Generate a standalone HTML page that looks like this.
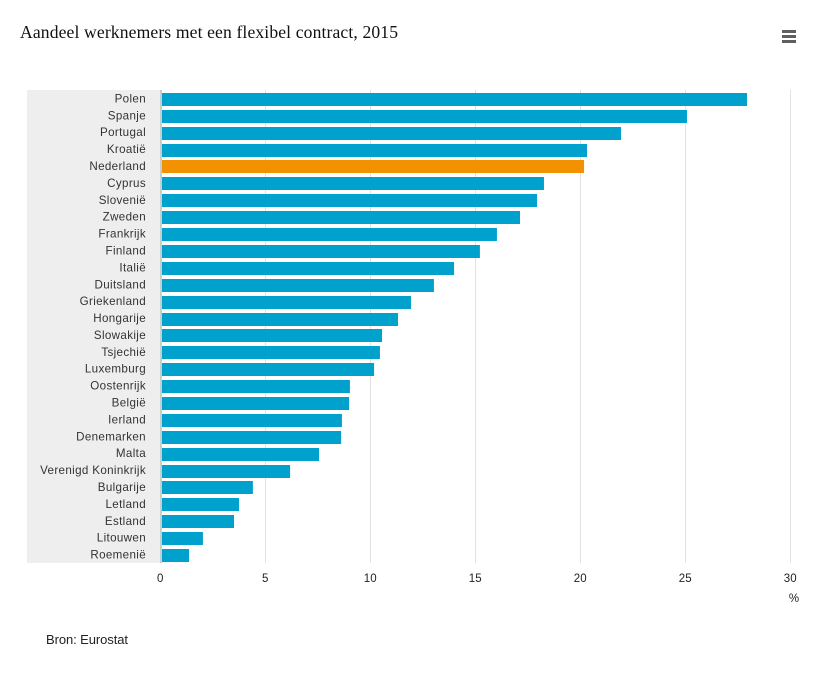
<!DOCTYPE html>
<html lang="nl">
<head>
<meta charset="utf-8">
<title>Aandeel werknemers met een flexibel contract, 2015</title>
<style>
html,body{margin:0;padding:0;background:#fff;width:825px;height:675px;overflow:hidden}
svg{display:block}
text{font-family:"Liberation Sans",sans-serif}
</style>
</head>
<body>
<svg id="chart" xmlns="http://www.w3.org/2000/svg" width="825" height="675" viewBox="0 0 825 675">
  <rect x="0" y="0" width="825" height="675" fill="#ffffff"/>
  <text x="20" y="38" font-size="17.6" fill="#111" textLength="378" lengthAdjust="spacing" style="font-family:'Liberation Serif',serif">Aandeel werknemers met een flexibel contract, 2015</text>
  <g>
    <rect x="782" y="30" width="14" height="3" fill="#5f5f5f"/>
    <rect x="782" y="35" width="14" height="3" fill="#5f5f5f"/>
    <rect x="782" y="40" width="14" height="3" fill="#5f5f5f"/>
  </g>
  <rect x="27" y="90" width="133" height="473" fill="#eeeeee"/>
  <g id="grid"></g>
  <rect x="160" y="90" width="2" height="473" fill="#c6ced4"/>
  <g id="bars"></g>
  <g id="cats"></g>
  <g id="ticks"></g>
  <text x="794" y="602" font-size="11.5" text-anchor="middle" fill="#222">%</text>
  <text x="46" y="644" font-size="13" fill="#222" textLength="82" lengthAdjust="spacing">Bron: Eurostat</text>
</svg>
<script>
const categories = ["Polen","Spanje","Portugal","Kroatië","Nederland","Cyprus","Slovenië","Zweden","Frankrijk","Finland","Italië","Duitsland","Griekenland","Hongarije","Slowakije","Tsjechië","Luxemburg","Oostenrijk","België","Ierland","Denemarken","Malta","Verenigd Koninkrijk","Bulgarije","Letland","Estland","Litouwen","Roemenië"];
const shares = [27.93,25.07,21.93,20.31,20.17,18.26,17.93,17.12,16.02,15.21,13.98,13.02,11.93,11.31,10.55,10.45,10.17,9.02,8.98,8.64,8.6,7.55,6.17,4.4,3.74,3.5,2.02,1.36];
const highlighted = ["Nederland"];
const tickValues = [0,5,10,15,20,25,30];

const NS = "http://www.w3.org/2000/svg";
const plotLeft = 160.5, plotRight = 790.5, plotTop = 90, plotBottom = 563, axisMax = 30;
const barStart = 162, barHeight = 13;
const xScale = v => plotLeft + (v / axisMax) * (plotRight - plotLeft);
const band = (plotBottom - plotTop) / categories.length;
const yCenter = i => plotTop + band * i + band / 2 + 1;
const yScale = i => Math.round(yCenter(i) - barHeight / 2 - 0.05);

function mk(tag, attrs, parent, txt) {
  const el = document.createElementNS(NS, tag);
  for (const k in attrs) el.setAttribute(k, attrs[k]);
  if (txt !== undefined) el.textContent = txt;
  parent.appendChild(el);
  return el;
}

const gridG = document.getElementById("grid");
const barsG = document.getElementById("bars");
const catsG = document.getElementById("cats");
const ticksG = document.getElementById("ticks");

tickValues.forEach(t => {
  if (t !== 0) {
    const line = mk("rect", {x: xScale(t) - 0.5, y: plotTop, width: 1, height: plotBottom - plotTop, fill: "#e2e2e2"}, gridG);
    
    
  }
  const lab = mk("text", {x: xScale(t) - 0.3, y: 582, "font-size": 11.5, "text-anchor": "middle", fill: "#222"}, ticksG, String(t));
  
  
});

categories.forEach((c, i) => {
  const slug = c.toLowerCase().replace(/[^a-z]+/g, "-");
  const bar = mk("rect", {
    x: barStart,
    y: yScale(i),
    width: Math.max(0, xScale(shares[i]) - barStart),
    height: barHeight,
    fill: highlighted.includes(c) ? "#f39200" : "#00a1cd"
  }, barsG);
  
  
  const lab = mk("text", {
    x: 146, y: yCenter(i) + 3, "font-size": 11.6, "text-anchor": "end", fill: "#333", "letter-spacing": 0.35
  }, catsG, c);
  
  
});
</script>
</body>
</html>
